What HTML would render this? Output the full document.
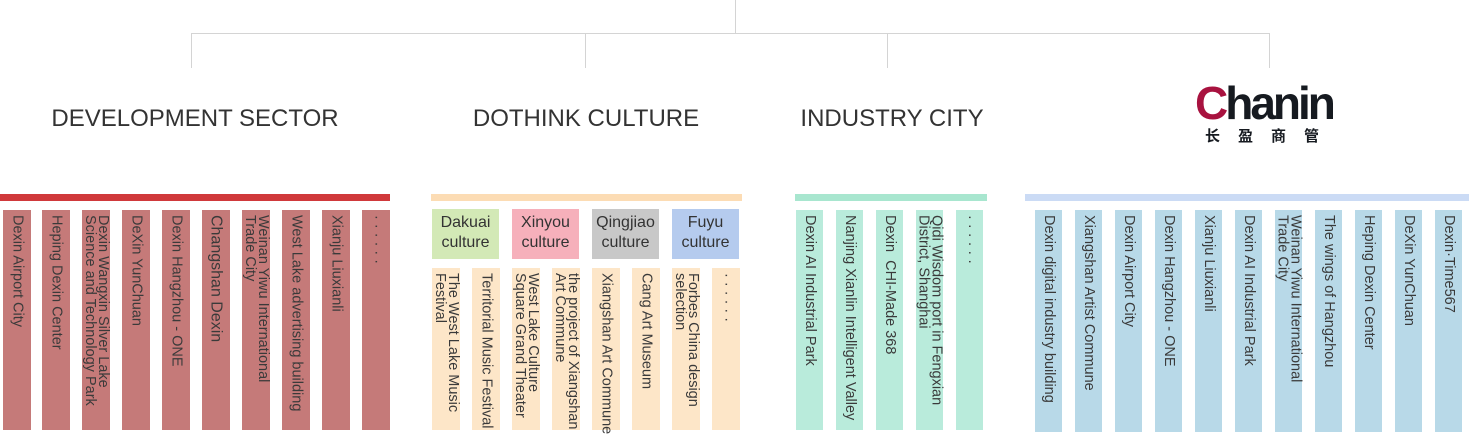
<!DOCTYPE html>
<html><head><meta charset="utf-8"><style>
body{margin:0;width:1469px;height:432px;background:#fff;position:relative;overflow:hidden;font-family:"Liberation Sans","Noto Sans CJK SC",sans-serif;color:#333}
div{position:absolute;box-sizing:border-box}
.l{background:#d4d4d4}
.c{display:flex;justify-content:center;align-items:flex-start;padding-top:5px}
.c span{writing-mode:vertical-rl;font-size:14.5px;line-height:13px;color:#3a3a3a;white-space:nowrap}
.h{font-size:24px;top:105px;white-space:nowrap;color:#333;transform:translateX(-50%)}
.hb{top:209px;width:67px;height:50px;font-size:16px;line-height:20px;text-align:center;padding-top:4px;color:#333}
</style></head><body>
<div class="l" style="left:735px;top:0;width:1px;height:34px"></div>
<div class="l" style="left:191px;top:33px;width:1079px;height:1px"></div>
<div class="l" style="left:191px;top:33px;width:1px;height:35px"></div>
<div class="l" style="left:585px;top:33px;width:1px;height:35px"></div>
<div class="l" style="left:887px;top:33px;width:1px;height:35px"></div>
<div class="l" style="left:1269px;top:33px;width:1px;height:35px"></div>

<div class="h" style="left:195px">DEVELOPMENT SECTOR</div>
<div class="h" style="left:586px">DOTHINK CULTURE</div>
<div class="h" style="left:892px">INDUSTRY CITY</div>
<div style="left:1195px;top:80px;font-size:46px;font-weight:bold;line-height:46px;letter-spacing:-3px;color:#161a20"><span style="color:#a8123f">C</span>hanin</div>
<div style="left:1205px;top:125px;font-size:15px;letter-spacing:18px;font-weight:bold;color:#161a20">长盈商管</div>

<div style="left:0;top:194px;width:390px;height:7px;background:#d0393b"></div>
<div style="left:431px;top:194px;width:311px;height:7px;background:#fcdcb4"></div>
<div style="left:795px;top:194px;width:192px;height:7px;background:#a8e6cf"></div>
<div style="left:1025px;top:194px;width:444px;height:7px;background:#cbdbf5"></div>

<div class="c" style="left:3px;top:210px;width:28px;height:220px;background:#c57a79"><span>Dexin Airport City</span></div>
<div class="c" style="left:42px;top:210px;width:28px;height:220px;background:#c57a79"><span>Heping Dexin Center</span></div>
<div class="c" style="left:82px;top:210px;width:28px;height:220px;background:#c57a79"><span>Dexin Wangxin Silver Lake<br>Science and Technology Park</span></div>
<div class="c" style="left:122px;top:210px;width:28px;height:220px;background:#c57a79"><span>DeXin YunChuan</span></div>
<div class="c" style="left:162px;top:210px;width:28px;height:220px;background:#c57a79"><span>Dexin Hangzhou - ONE</span></div>
<div class="c" style="left:202px;top:210px;width:28px;height:220px;background:#c57a79"><span style="font-size:16px">Changshan Dexin</span></div>
<div class="c" style="left:242px;top:210px;width:28px;height:220px;background:#c57a79"><span>Weinan Yiwu International<br>Trade City</span></div>
<div class="c" style="left:282px;top:210px;width:28px;height:220px;background:#c57a79"><span>West Lake advertising building</span></div>
<div class="c" style="left:322px;top:210px;width:28px;height:220px;background:#c57a79"><span>Xianju Liuxianli</span></div>
<div class="c" style="left:362px;top:210px;width:28px;height:220px;background:#c57a79"><span>· · · · · ·</span></div>

<div class="hb" style="left:432px;background:#d3e9b6">Dakuai<br>culture</div>
<div class="hb" style="left:512px;background:#f6b0bb">Xinyou<br>culture</div>
<div class="hb" style="left:592px;background:#c8c8c8">Qingjiao<br>culture</div>
<div class="hb" style="left:672px;background:#b5cbee">Fuyu<br>culture</div>

<div class="c" style="left:432px;top:268px;width:28px;height:162px;background:#fde6c8"><span>The West Lake Music<br>Festival</span></div>
<div class="c" style="left:472px;top:268px;width:28px;height:162px;background:#fde6c8"><span>Territorial Music Festival</span></div>
<div class="c" style="left:512px;top:268px;width:28px;height:162px;background:#fde6c8"><span>West Lake Culture<br>Square Grand Theater</span></div>
<div class="c" style="left:552px;top:268px;width:28px;height:162px;background:#fde6c8"><span>the project of Xiangshan<br>Art Commune</span></div>
<div class="c" style="left:592px;top:268px;width:28px;height:162px;background:#fde6c8"><span>Xiangshan Art Commune</span></div>
<div class="c" style="left:632px;top:268px;width:28px;height:162px;background:#fde6c8"><span>Cang Art Museum</span></div>
<div class="c" style="left:672px;top:268px;width:28px;height:162px;background:#fde6c8"><span>Forbes China design<br>selection</span></div>
<div class="c" style="left:712px;top:268px;width:28px;height:162px;background:#fde6c8"><span>· · · · · ·</span></div>

<div class="c" style="left:796px;top:210px;width:27px;height:220px;background:#b9ebdb"><span>Dexin AI Industrial Park</span></div>
<div class="c" style="left:836px;top:210px;width:27px;height:220px;background:#b9ebdb"><span>Nanjing Xianlin Intelligent Valley</span></div>
<div class="c" style="left:876px;top:210px;width:27px;height:220px;background:#b9ebdb"><span>Dexin &nbsp;CHI-Made 368</span></div>
<div class="c" style="left:916px;top:210px;width:27px;height:220px;background:#b9ebdb"><span>Qidi Wisdom port in Fengxian<br>District, Shanghai</span></div>
<div class="c" style="left:956px;top:210px;width:27px;height:220px;background:#b9ebdb"><span>· · · · · ·</span></div>

<div class="c" style="left:1035px;top:210px;width:27px;height:222px;background:#b8d9e8"><span>Dexin digital industry building</span></div>
<div class="c" style="left:1075px;top:210px;width:27px;height:222px;background:#b8d9e8"><span>Xiangshan Artist Commune</span></div>
<div class="c" style="left:1115px;top:210px;width:27px;height:222px;background:#b8d9e8"><span>Dexin Airport City</span></div>
<div class="c" style="left:1155px;top:210px;width:27px;height:222px;background:#b8d9e8"><span>Dexin Hangzhou - ONE</span></div>
<div class="c" style="left:1195px;top:210px;width:27px;height:222px;background:#b8d9e8"><span>Xianju Liuxianli</span></div>
<div class="c" style="left:1235px;top:210px;width:27px;height:222px;background:#b8d9e8"><span>Dexin AI Industrial Park</span></div>
<div class="c" style="left:1275px;top:210px;width:27px;height:222px;background:#b8d9e8"><span>Weinan Yiwu International<br>Trade City</span></div>
<div class="c" style="left:1315px;top:210px;width:27px;height:222px;background:#b8d9e8"><span>The wings of Hangzhou</span></div>
<div class="c" style="left:1355px;top:210px;width:27px;height:222px;background:#b8d9e8"><span>Heping Dexin Center</span></div>
<div class="c" style="left:1395px;top:210px;width:27px;height:222px;background:#b8d9e8"><span>DeXin YunChuan</span></div>
<div class="c" style="left:1435px;top:210px;width:27px;height:222px;background:#b8d9e8"><span>Dexin·Time567</span></div>
</body></html>
